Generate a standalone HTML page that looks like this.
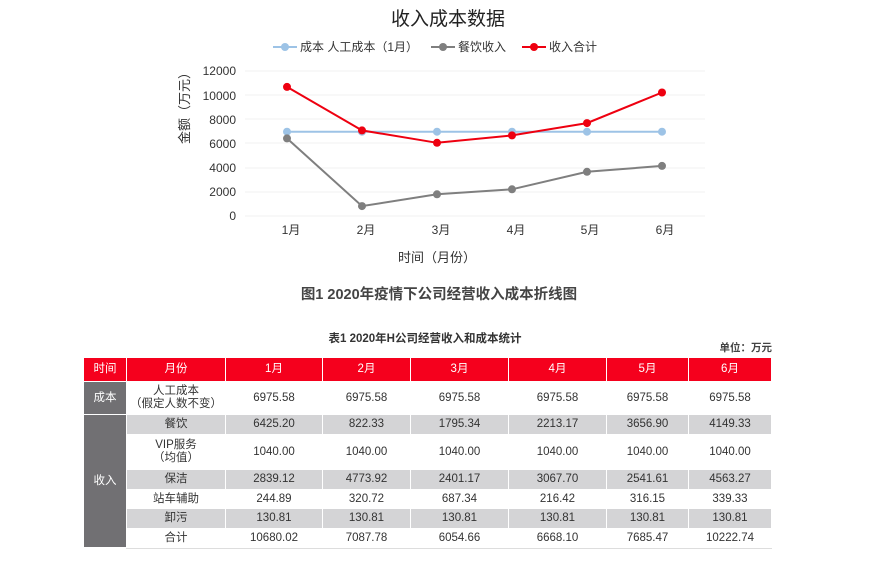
<!DOCTYPE html>
<html><head><meta charset="utf-8"><style>
body{margin:0;width:892px;height:587px;background:#fff;position:relative;overflow:hidden;font-family:"Liberation Sans","Noto Sans CJK SC",sans-serif;}
.t{position:absolute;white-space:nowrap;}
table{position:absolute;left:83px;top:357px;border-collapse:collapse;table-layout:fixed;font-size:11.5px;color:#333;}
td{border:1.5px solid #fff;text-align:center;padding:0;line-height:13px;}
tr.h td{background:#f5001d;color:#fff;height:23px;}
td.g{background:#717073;color:#fff;}
tr.s td{background:#d4d4d6;}
tr.s td.g{background:#717073;}
</style></head><body>
<div class="t" style="left:0;width:892px;text-align:center;top:4px;font-size:19px;color:#222;padding-left:2px">收入成本数据</div>
<svg style="position:absolute;left:0;top:0" width="892" height="360">
<g stroke="#f2f2f2" stroke-width="1">
<line x1="245" x2="705" y1="71" y2="71"/><line x1="245" x2="705" y1="95" y2="95"/><line x1="245" x2="705" y1="119" y2="119"/><line x1="245" x2="705" y1="143" y2="143"/><line x1="245" x2="705" y1="168" y2="168"/><line x1="245" x2="705" y1="192" y2="192"/><line x1="245" x2="705" y1="216" y2="216"/>
</g>
<g font-size="12" fill="#333" text-anchor="end" font-family="Liberation Sans,sans-serif">
<text x="236" y="75">12000</text><text x="236" y="100">10000</text><text x="236" y="124">8000</text><text x="236" y="148">6000</text><text x="236" y="172">4000</text><text x="236" y="196">2000</text><text x="236" y="220">0</text>
</g>
<g font-size="12" fill="#333" text-anchor="middle" font-family="Liberation Sans,Noto Sans CJK SC,sans-serif">
<text x="291" y="234">1月</text><text x="366" y="234">2月</text><text x="441" y="234">3月</text><text x="516" y="234">4月</text><text x="590" y="234">5月</text><text x="665" y="234">6月</text>
<text x="437" y="262" font-size="13">时间（月份）</text>
</g>
<text transform="translate(189,105) rotate(-90)" text-anchor="middle" font-size="13" fill="#333" font-family="Liberation Sans,Noto Sans CJK SC,sans-serif">金额（万元）</text>
<polyline fill="none" stroke="#9dc3e6" stroke-width="2" points="287,131.7 362,131.7 437,131.7 512,131.7 587,131.7 662,131.7"/>
<g fill="#9dc3e6"><circle cx="287" cy="131.7" r="4"/><circle cx="362" cy="131.7" r="4"/><circle cx="437" cy="131.7" r="4"/><circle cx="512" cy="131.7" r="4"/><circle cx="587" cy="131.7" r="4"/><circle cx="662" cy="131.7" r="4"/></g>
<polyline fill="none" stroke="#7f7f7f" stroke-width="2" points="287,138.4 362,206.1 437,194.3 512,189.3 587,171.8 662,165.9"/>
<g fill="#7f7f7f"><circle cx="287" cy="138.4" r="4"/><circle cx="362" cy="206.1" r="4"/><circle cx="437" cy="194.3" r="4"/><circle cx="512" cy="189.3" r="4"/><circle cx="587" cy="171.8" r="4"/><circle cx="662" cy="165.9" r="4"/></g>
<polyline fill="none" stroke="#ee0010" stroke-width="2" points="287,86.9 362,130.4 437,142.8 512,135.4 587,123.1 662,92.5"/>
<g fill="#ee0010"><circle cx="287" cy="86.9" r="4"/><circle cx="362" cy="130.4" r="4"/><circle cx="437" cy="142.8" r="4"/><circle cx="512" cy="135.4" r="4"/><circle cx="587" cy="123.1" r="4"/><circle cx="662" cy="92.5" r="4"/></g>
<line x1="273" x2="297" y1="47" y2="47" stroke="#9dc3e6" stroke-width="2"/><circle cx="285" cy="47" r="4" fill="#9dc3e6"/>
<line x1="431" x2="455" y1="47" y2="47" stroke="#7f7f7f" stroke-width="2"/><circle cx="443" cy="47" r="4" fill="#7f7f7f"/>
<line x1="522" x2="546" y1="47" y2="47" stroke="#ee0010" stroke-width="2"/><circle cx="534" cy="47" r="4" fill="#ee0010"/>
<g font-size="12" fill="#333" font-family="Liberation Sans,Noto Sans CJK SC,sans-serif">
<text x="300" y="51">成本 人工成本（1月）</text><text x="458" y="51">餐饮收入</text><text x="549" y="51">收入合计</text>
</g>
<text x="439" y="299" text-anchor="middle" font-size="14.5" font-weight="bold" fill="#444" font-family="Liberation Sans,Noto Sans CJK SC,sans-serif">图1  2020年疫情下公司经营收入成本折线图</text>
<text x="425" y="342" text-anchor="middle" font-size="11.5" font-weight="bold" fill="#333" font-family="Liberation Sans,Noto Sans CJK SC,sans-serif">表1  2020年H公司经营收入和成本统计</text>
<text x="772" y="351" text-anchor="end" font-size="10.5" font-weight="bold" fill="#444" font-family="Liberation Sans,Noto Sans CJK SC,sans-serif">单位：万元</text>
</svg>
<table>
<colgroup><col style="width:43px"><col style="width:99px"><col style="width:97px"><col style="width:88px"><col style="width:98px"><col style="width:98px"><col style="width:82px"><col style="width:83px"></colgroup>
<tr class="h"><td>时间</td><td>月份</td><td>1月</td><td>2月</td><td>3月</td><td>4月</td><td>5月</td><td>6月</td></tr>
<tr style="height:33px"><td class="g">成本</td><td>人工成本<br>（假定人数不变）</td><td>6975.58</td><td>6975.58</td><td>6975.58</td><td>6975.58</td><td>6975.58</td><td>6975.58</td></tr>
<tr class="s" style="height:20px"><td class="g" rowspan="6">收入</td><td>餐饮</td><td>6425.20</td><td>822.33</td><td>1795.34</td><td>2213.17</td><td>3656.90</td><td>4149.33</td></tr>
<tr style="height:35px"><td>VIP服务<br>（均值）</td><td>1040.00</td><td>1040.00</td><td>1040.00</td><td>1040.00</td><td>1040.00</td><td>1040.00</td></tr>
<tr class="s" style="height:20px"><td>保洁</td><td>2839.12</td><td>4773.92</td><td>2401.17</td><td>3067.70</td><td>2541.61</td><td>4563.27</td></tr>
<tr style="height:19px"><td>站车辅助</td><td>244.89</td><td>320.72</td><td>687.34</td><td>216.42</td><td>316.15</td><td>339.33</td></tr>
<tr class="s" style="height:20px"><td>卸污</td><td>130.81</td><td>130.81</td><td>130.81</td><td>130.81</td><td>130.81</td><td>130.81</td></tr>
<tr style="height:19px"><td>合计</td><td>10680.02</td><td>7087.78</td><td>6054.66</td><td>6668.10</td><td>7685.47</td><td>10222.74</td></tr>
</table>
<div style="position:absolute;left:126px;top:548px;width:646px;height:1px;background:#ddd"></div>
</body></html>
